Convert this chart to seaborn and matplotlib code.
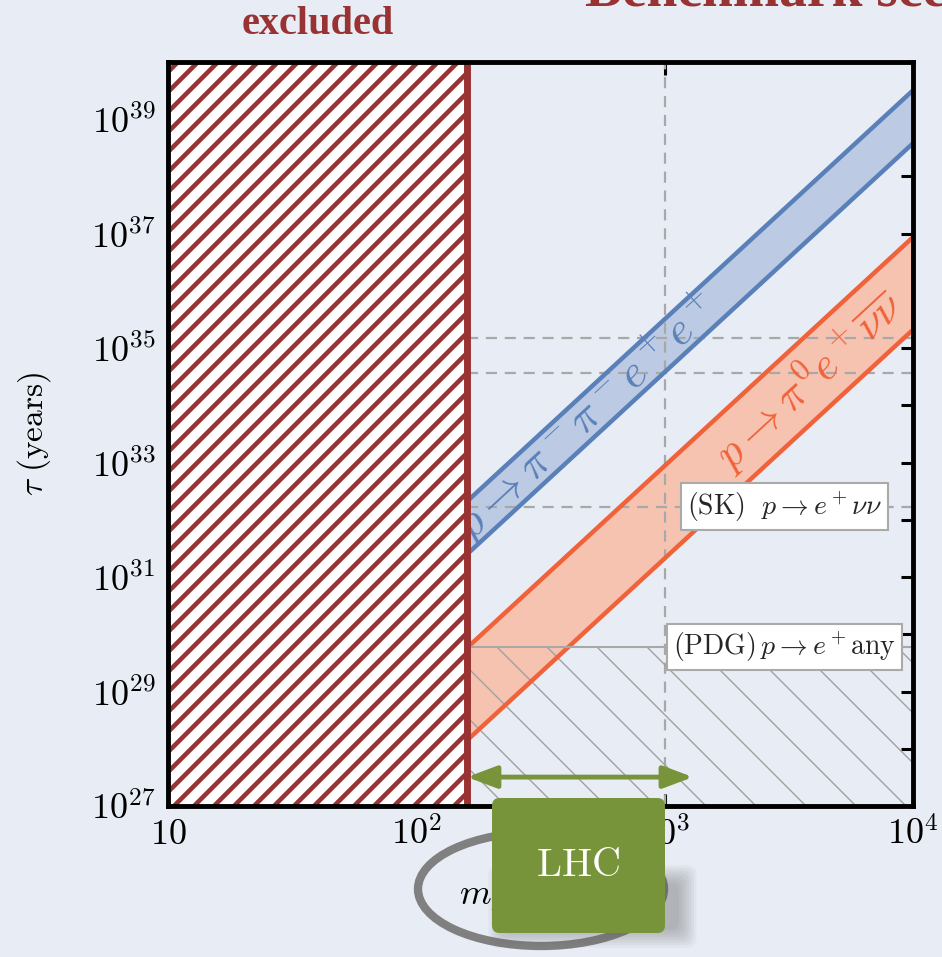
import numpy as np
import pandas as pd
import matplotlib
matplotlib.use("Agg")
import matplotlib.pyplot as plt
import seaborn as sns
from matplotlib.patches import FancyBboxPatch, Ellipse
from matplotlib.ticker import FixedLocator, FixedFormatter, NullLocator
from matplotlib.backend_bases import GraphicsContextBase

# ---------------- data ----------------
x_limits = [10.0, 1.0e4]
y_limits = [1.0e27, 1.0e40]
band_mass = [160.0, 1.0e4]          # GeV, band start (excluded bound) and right edge
blue_upper = [2.1e32, 3.2e39]
blue_lower = [2.5e31, 3.8e38]
orange_upper = [5.8e29, 8.7e36]
orange_lower = [1.4e28, 2.1e35]
m_excluded = 160.0
m_tev = 1.0e3
tau_guides = [1.5e35, 3.7e34]
tau_sk = 1.7e32
tau_pdg = 6.0e29
lhc_arrow_mass = [160.0, 1.3e3]
lhc_arrow_tau = 3.2e27
x_ticks = [10.0, 1e2, 1e3, 1e4]
x_tick_labels = [r"$10$", r"$10^{2}$", r"$10^{3}$", r"$10^{4}$"]
y_exponents = list(range(27, 41))
y_ticks = [10.0 ** k for k in y_exponents]
y_tick_labels = [rf"$10^{{{k}}}$" if k % 2 else "" for k in y_exponents]
blue_label = r"$p\to\pi^-\pi^-e^+e^+$"
orange_label = r"$p\to\pi^0e^+\overline{\nu\nu}$"
sk_label = r"$\mathrm{(SK)}\ \ p\to e^+\nu\nu$"
pdg_label = r"$\mathrm{(PDG)}\,p\to e^+\mathrm{any}$"
blue_label_pos = (485.0, 10 ** 33.80)
orange_label_pos = (3790.0, 10 ** 34.44)
box_label_mass = 3030.0

# ---------------- style ----------------
BG = "#e8edf5"
RED = "#993333"
BLUE_LINE = "#5a80b9"
BLUE_FILL = "#bccbe3"
ORANGE_LINE = "#f0623a"
ORANGE_FILL = "#f7c3b1"
GREY = "#a8a8a8"
GREEN = "#77943a"

sns.set_theme(style="ticks")
plt.rcParams["font.family"] = ["DejaVu Serif"]
plt.rcParams["mathtext.fontset"] = "cm"

# per-hatch density / width (even line counts keep the pattern seamless)
_orig_hatch_path = GraphicsContextBase.get_hatch_path
_orig_hatch_lw = GraphicsContextBase.get_hatch_linewidth if hasattr(GraphicsContextBase, "get_hatch_linewidth") else None
HATCH_DENSITY = {"/": 10, "\\": 4}
HATCH_LW = {"/": 3.3, "\\": 1.0}


def _hatch_path(self, density=6.0):
    h = self.get_hatch()
    if h in HATCH_DENSITY:
        density = HATCH_DENSITY[h]
    return _orig_hatch_path(self, density)


GraphicsContextBase.get_hatch_path = _hatch_path
if _orig_hatch_lw is not None:
    def _hatch_lw(self):
        h = self.get_hatch()
        if h in HATCH_LW:
            return HATCH_LW[h]
        return _orig_hatch_lw(self)
    GraphicsContextBase.get_hatch_linewidth = _hatch_lw

fig = plt.figure(figsize=(9.42, 9.57), dpi=100, facecolor=BG)
ax = fig.add_axes([168 / 942, 1 - 806 / 957, (913 - 168) / 942, (806 - 62) / 957])
ax.set_facecolor(BG)
ax.set_xscale("log")
ax.set_yscale("log")
ax.set_xlim(*x_limits)
ax.set_ylim(*y_limits)

# bands
ax.fill_between(band_mass, blue_lower, blue_upper, color=BLUE_FILL, lw=0, zorder=1.5)
ax.fill_between(band_mass, orange_lower, orange_upper, color=ORANGE_FILL, lw=0, zorder=1.5)

df = pd.DataFrame({
    "mass": band_mass * 4,
    "tau": blue_upper + blue_lower + orange_upper + orange_lower,
    "curve": ["bu"] * 2 + ["bl"] * 2 + ["ou"] * 2 + ["ol"] * 2,
})
sns.lineplot(data=df, x="mass", y="tau", hue="curve", units="curve", estimator=None,
             palette={"bu": BLUE_LINE, "bl": BLUE_LINE, "ou": ORANGE_LINE, "ol": ORANGE_LINE},
             lw=3.2, legend=False, ax=ax, zorder=2.1, sort=False)

# guide lines
dash = (0, (5, 3.5))
ax.axvline(m_tev, color=GREY, ls=dash, lw=1.6, zorder=1.8)
ax.hlines(tau_guides + [tau_sk], m_excluded, x_limits[1], colors=GREY, linestyles=dash, lw=1.6, zorder=1.8)

# PDG excluded (grey hatch)
ax.fill_between([m_excluded, x_limits[1]], y_limits[0], tau_pdg, facecolor="none",
                edgecolor="#a0a0a0", hatch="\\", lw=0, zorder=2.0)
ax.hlines(tau_pdg, m_excluded, x_limits[1], colors="#a8a8a8", lw=1.5, zorder=2.2)

# excluded region
ax.axvspan(x_limits[0], m_excluded, facecolor="white", edgecolor=RED, hatch="/", lw=0, zorder=3)
ax.axvline(m_excluded, color=RED, lw=5, zorder=3.1)

# labels along bands
def band_angle(xs, ys):
    p = ax.transData.transform(np.column_stack([xs, ys]))
    return np.degrees(np.arctan2(p[1, 1] - p[0, 1], p[1, 0] - p[0, 0]))

ax.text(*blue_label_pos, blue_label, rotation=band_angle(band_mass, blue_upper), rotation_mode="anchor",
        ha="center", va="center", color=BLUE_LINE, fontsize=33, zorder=2.6)
ax.text(*orange_label_pos, orange_label, rotation=band_angle(band_mass, orange_upper), rotation_mode="anchor",
        ha="center", va="center", color=ORANGE_LINE, fontsize=32, zorder=2.6)

box = dict(boxstyle="square,pad=0.22", fc="white", ec="#aaaaaa", lw=1.5)
ax.text(box_label_mass, tau_sk, sk_label, ha="center", va="center", fontsize=20, bbox=box, zorder=2.7)
ax.text(box_label_mass, tau_pdg, pdg_label, ha="center", va="center", fontsize=20, bbox=box, zorder=2.7)

# LHC arrow
ax.annotate("", xy=(lhc_arrow_mass[1], lhc_arrow_tau), xytext=(lhc_arrow_mass[0], lhc_arrow_tau),
            arrowprops=dict(arrowstyle="<|-|>,head_length=1.2,head_width=0.45", color=GREEN, lw=3.5,
                            mutation_scale=15, shrinkA=0, shrinkB=0), zorder=3.5)

# ticks
ax.xaxis.set_major_locator(FixedLocator(x_ticks))
ax.xaxis.set_major_formatter(FixedFormatter(x_tick_labels))
ax.yaxis.set_major_locator(FixedLocator(y_ticks))
ax.yaxis.set_major_formatter(FixedFormatter(y_tick_labels))
ax.xaxis.set_minor_locator(NullLocator())
ax.yaxis.set_minor_locator(NullLocator())
ax.tick_params(which="major", direction="in", top=True, right=True, length=9, width=2.2,
               labelsize=26, color="black", labelcolor="black")
ax.tick_params(axis="y", pad=9)
ax.tick_params(axis="x", pad=8)
for s in ax.spines.values():
    s.set_linewidth(3.5)
    s.set_color("black")
    s.set_zorder(4)

ax.set_xlabel(r"$m_X\ \mathrm{(GeV)}$", fontsize=26, color="black", labelpad=16)
ax.set_ylabel(r"$\tau\ \mathrm{(years)}$", fontsize=24, color="black", labelpad=27)

# titles
fig.text(318 / 942, 1 - 25 / 957, "excluded", family="Liberation Serif", fontweight="bold",
         fontsize=29, color=RED, ha="center", va="center")
fig.text(585 / 942, 1 - 5 / 957, "Benchmark scenarios", family="Liberation Serif", fontweight="bold",
         fontsize=40, color=RED, ha="left", va="baseline")

# LHC badge with ellipse and shadow
fig.add_artist(Ellipse((541 / 942, 1 - 889 / 957), width=246 / 942, height=114 / 957,
                       transform=fig.transFigure, fill=False, ec="#808080", lw=6, zorder=9))
bx, by, bw, bh = 492 / 942, 1 - 933 / 957, 173 / 942, 135 / 957
for i in range(8):
    g = i * 2.5
    fig.add_artist(FancyBboxPatch((bx + (14 - g) / 942, by + (3 - g) / 957), bw + 2 * g / 942, bh * 0.35 + 2 * g / 957,
                                  boxstyle="round,pad=0,rounding_size=0.01", transform=fig.transFigure,
                                  fc="#606060", ec="none", alpha=0.06, zorder=9.5))
fig.add_artist(FancyBboxPatch((bx, by), bw, bh, boxstyle="round,pad=0,rounding_size=0.008",
                              transform=fig.transFigure, fc=GREEN, ec="none", zorder=10))
fig.text(bx + bw / 2, by + bh / 2, r"$\mathrm{LHC}$", color="white", fontsize=29,
         ha="center", va="center", zorder=11)

fig.savefig("out.png", dpi=100, facecolor=BG)
